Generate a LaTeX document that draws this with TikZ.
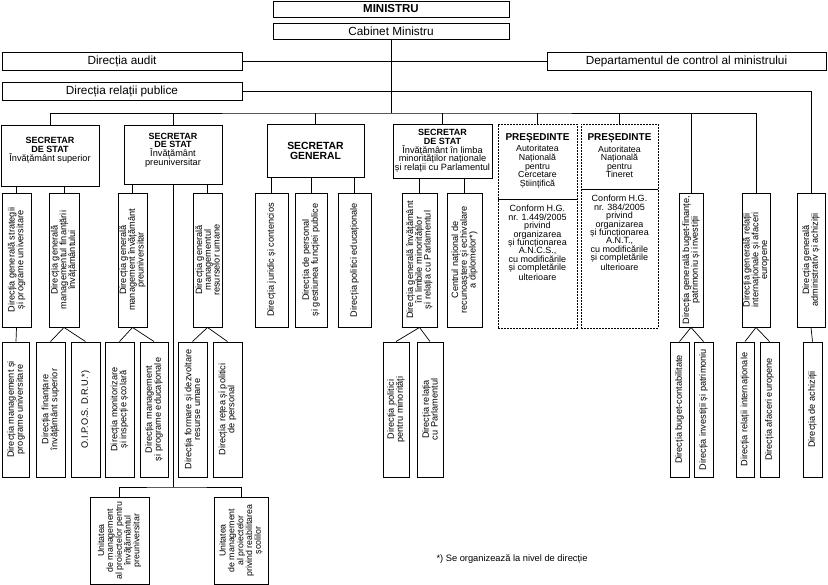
\documentclass[tikz,border=0pt]{standalone}
\usepackage{fontspec}
\setmainfont{Liberation Sans}
\newcommand{\hd}[1]{{\bfseries\fontsize{9}{8}\selectfont #1}}
\begin{document}
\begin{tikzpicture}[x=1pt, y=-1pt, line width=0.7pt,
    topbox/.style={draw, line width=0.9pt, inner sep=0pt, font=\fontsize{11.8}{12}\selectfont},
    secbox/.style={draw, line width=0.9pt, align=center, inner sep=0pt, font=\fontsize{9.2}{8.8}\selectfont},
    presbox/.style={draw, line width=0.8pt, dash pattern=on 2pt off 1pt},
    prestext/.style={align=center, inner sep=0pt, font=\fontsize{8.8}{8.6}\selectfont},
    dirbox/.style={draw, line width=0.9pt, rotate=90, align=center, inner sep=0.5pt, font=\fontsize{9.2}{8.8}\selectfont}
]
    \useasboundingbox (0,0) rectangle (828,585);

    % Minister and cabinet
    \node[topbox, font=\fontsize{11.5}{12}\bfseries, minimum width=236pt, minimum height=16pt] (min) at (391,9) {MINISTRU};
    \node[topbox, minimum width=236pt, minimum height=16pt] (cab) at (391,31) {Cabinet Ministru};
    \node[topbox, minimum width=240pt, minimum height=18pt] (audit) at (122,61) {Direcția audit};
    \node[topbox, minimum width=279pt, minimum height=18pt] (dep) at (686.5,61) {Departamentul de control al ministrului};
    \node[topbox, minimum width=240pt, minimum height=18pt] (rel) at (122,91) {Direcția relații publice};
    \coordinate (bus) at (391,113);

    % Secretaries of state
    \node[secbox, minimum width=98pt, minimum height=61pt] (s1) at (50,155.5) {\hd{SECRETAR}\\\hd{DE STAT}\\Învățământ superior\\[3pt]};
    \node[secbox, minimum width=98pt, minimum height=59pt] (s2) at (173,154.5) {\hd{SECRETAR}\\\hd{DE STAT}\\Învățământ\\preuniversitar\\[2pt]};
    \node[secbox, font=\fontsize{10.4}{10}\bfseries, minimum width=97pt, minimum height=53pt] (sg) at (315.5,150.5) {SECRETAR\\GENERAL};
    \node[secbox, minimum width=99pt, minimum height=54pt] (s3) at (442.5,151) {\hd{SECRETAR}\\\hd{DE STAT}\\Învățământ în limba\\minorităților naționale\\și relații cu Parlamentul};

    % Presidents of the authorities
    \node[presbox, minimum width=79pt, minimum height=204pt] (p1) at (537.5,226) {};
    \node[presbox, minimum width=77pt, minimum height=204pt] (p2) at (619.5,226) {};
    \draw ([yshift=-76pt]p1.north west) -- ([yshift=-76pt]p1.north east);
    \draw ([yshift=-66pt]p2.north west) -- ([yshift=-66pt]p2.north east);
    \node[prestext] (p1t) at (537.5,161) {{\bfseries\fontsize{10}{9}\selectfont PREȘEDINTE}\\[1.5pt]Autoritatea\\Națională\\pentru\\Cercetare\\Științifică};
    \node[prestext] (p2t) at (619.5,156) {{\bfseries\fontsize{10}{9}\selectfont PREȘEDINTE}\\[1.5pt]Autoritatea\\Națională\\pentru\\Tineret};
    \node[prestext, font=\fontsize{9}{8.4}\selectfont, anchor=north] (p1n) at (537.5,205) {Conform H.G.\\nr. 1.449/2005\\privind\\organizarea\\și funcționarea\\A.N.C.S.,\\cu modificările\\și completările\\ulterioare};
    \node[prestext, font=\fontsize{9}{8.4}\selectfont, anchor=north] (p2n) at (619.5,195) {Conform H.G.\\nr. 384/2005\\privind\\organizarea\\și funcționarea\\A.N.T.,\\cu modificările\\și completările\\ulterioare};

    % General directorates
    \foreach \n/\x/\w/\txt in {
        a/16.5/29/{Direcția generală strategii\\și programe universitare},
        b/64/30/{Direcția generală\\managementul finanțării\\învățământului},
        c/132.5/29/{Direcția generală\\management învățământ\\preuniversitar},
        d/207.5/29/{Direcția generală\\managementul\\resurselor umane},
        f/271.5/33/{Direcția juridic și contencios},
        g/311/32/{Direcția de personal\\și gestiunea funcției publice},
        h/354.5/33/{Direcția politici educaționale},
        i/419.5/35/{Direcția generală învățământ\\în limbile minorităților\\și relația cu Parlamentul},
        j/464.5/35/{Centrul național de\\recunoaștere și echivalare\\a diplomelor*)},
        k/691/24/{Direcția generală buget-finanțe,\\patrimoniu și investiții},
        l/756/28/{Direcția generală relații\\internaționale și afaceri\\europene},
        m/811/28/{Direcția generală\\administrativ și achiziții}} {
        \node[dirbox, minimum width=134pt, minimum height=\w pt] (\n) at (\x,260) {\txt};
    }

    % Directorates
    \foreach \n/\x/\w/\txt in {
        a1/16/27/{Direcția management și\\programe universitare},
        b1/50.5/29/{Direcția finanțare\\învățământ superior},
        b2/85.5/29/{O.I.P.O.S. D.R.U.*)},
        c1/119.5/29/{Direcția monitorizare\\și inspecție școlară},
        c2/154/28/{Direcția management\\și programe educaționale},
        d1/192.5/29/{Direcția formare și dezvoltare\\resurse umane},
        d2/227.5/29/{Direcția rețea și politici\\de personal},
        i1/396/26/{Direcția politici\\pentru minorități},
        i2/430/26/{Direcția relația\\cu Parlamentul},
        k1/679.5/19/{Direcția buget-contabilitate},
        k2/703.5/19/{Direcția investiții și patrimoniu},
        l1/745/18/{Direcția relații internaționale},
        l2/769.5/19/{Direcția afaceri europene},
        m1/812.5/19/{Direcția de achiziții}} {
        \node[dirbox, minimum width=135pt, minimum height=\w pt] (\n) at (\x,409.5) {\txt};
    }

    % Project management units
    \node[dirbox, font=\fontsize{8.8}{8.8}\selectfont, minimum width=87pt, minimum height=59pt] (u1) at (119.5,540.5) {Unitatea\\de management\\al proiectelor pentru\\învățământul\\preuniversitar};
    \node[dirbox, font=\fontsize{8.8}{8.8}\selectfont, minimum width=87pt, minimum height=54pt] (u2) at (241,540.5) {Unitatea\\de management\\al proiectelor\\privind reabilitarea\\școlilor};
    \coordinate (ubus) at (173,487);

    \node[font=\fontsize{9.3}{10}\selectfont] (note) at (512,559) {*) Se organizează la nivel de direcție};

    % Connections
    \draw (cab.south) -- (bus);
    \draw (audit.east) -- (dep.west);
    \draw (rel.east) -| (m.east);
    \draw (s1.north) |- (bus) -| (l.east);
    \foreach \n in {s2,sg,s3,p1,p2} {
        \draw (\n.north |- bus) -- (\n.north);
    }
    \draw (k.east) -- (k.east |- bus);
    \foreach \n/\p in {a/s1,b/s1,c/s2,d/s2,f/sg,g/sg,h/sg,i/s3,j/s3} {
        \draw (\n.east) -- (\n.east |- \p.south);
    }
    \foreach \p/\c in {a/a1,b/b1,b/b2,c/c1,c/c2,d/d1,d/d2,i/i1,i/i2,k/k1,k/k2,l/l1,l/l2,m/m1} {
        \draw (\p.west) -- (\c.east);
    }
    \draw (s2.south) -- (ubus);
    \draw (u1.east) |- (ubus) -| (u2.east);
\end{tikzpicture}
\end{document}
